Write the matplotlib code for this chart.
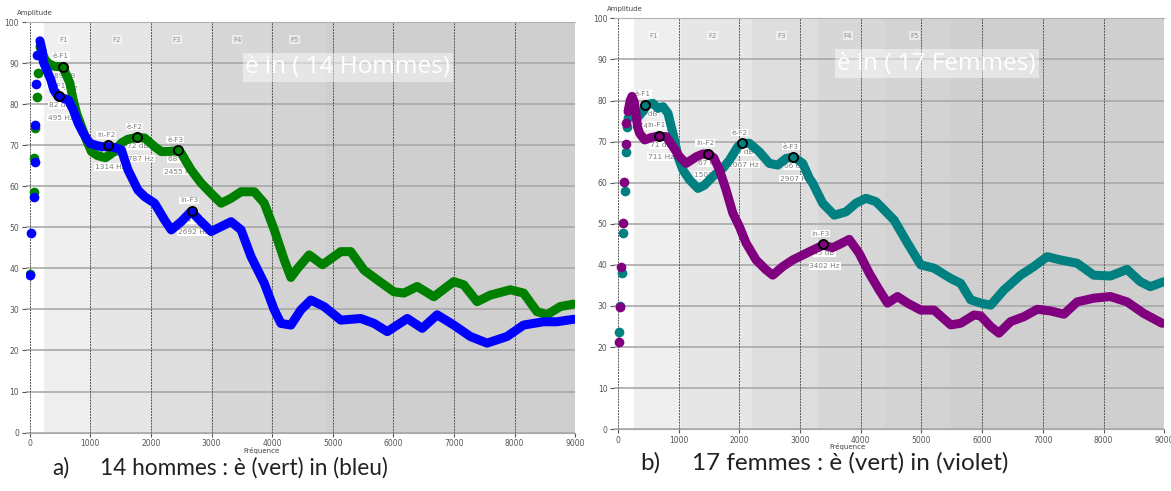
import matplotlib
matplotlib.use('Agg')
import matplotlib.pyplot as plt

# ---- hommes (a) ----
h_e_start_hz = [5, 71, 71, 88, 115, 132]
h_e_start_db = [38.6, 58.7, 66.9, 74.3, 81.9, 87.7]
h_e_hz = [170, 200, 250, 307, 400, 471, 554, 581, 663, 718, 773, 855, 937, 1020, 1120, 1250,
          1400, 1513, 1620, 1760, 1897, 2061, 2171, 2281, 2434, 2500, 2664, 2829, 2993, 3158,
          3322, 3487, 3706, 3870, 4035, 4199, 4309, 4419, 4611, 4830, 5132, 5296, 5515, 5735,
          6009, 6173, 6393, 6667, 6995, 7160, 7380, 7599, 7928, 8147, 8366, 8531, 8750, 8969]
h_e_db = [94, 93, 91, 90, 89.3, 89.2, 89.2, 88, 85.2, 81.1, 77.9, 74.6, 71.3, 68.5, 67.5, 67,
          68.5, 70.6, 71.5, 71.9, 71.8, 69.7, 68.5, 68.5, 68.7, 68.1, 64, 60.8, 58.3, 55.9,
          57.1, 58.7, 58.7, 55.9, 49.4, 42.1, 37.8, 40, 43.3, 40.9, 44.1, 44.1, 39.6, 37.2,
          34.3, 34, 35.6, 33.1, 36.8, 36, 31.9, 33.5, 34.8, 34, 29.5, 28.7, 30.7, 31.3]

h_in_start_hz = [5, 22, 71, 88, 88, 104, 126]
h_in_start_db = [38.4, 48.7, 57.5, 66, 75, 85, 92]
h_in_hz = [170, 209, 225, 280, 350, 400, 471, 550, 636, 718, 800, 883, 993, 1100, 1184, 1294,
           1400, 1513, 1623, 1787, 1897, 2061, 2226, 2336, 2500, 2664, 2829, 2993, 3158, 3322,
           3487, 3651, 3870, 4035, 4145, 4309, 4474, 4638, 4857, 5132, 5461, 5680, 5899, 6229,
           6475, 6721, 6995, 7270, 7544, 7873, 8147, 8476, 8695, 8969]
h_in_db = [95.5, 93, 90.4, 88.4, 86, 83.5, 81.9, 81.5, 81.1, 78.7, 75.4, 73, 70.5, 70, 69.7, 69.7,
           69.5, 68.9, 64, 59.1, 57.5, 55.9, 51.8, 49.4, 51.4, 53.9, 51.4, 49, 50.2, 51.4,
           49.4, 42.9, 36.4, 29.9, 26.6, 26.2, 29.9, 32.3, 30.7, 27.4, 27.8, 26.6, 24.6, 27.8,
           25.4, 28.7, 26.2, 23.4, 21.8, 23.4, 26.2, 27, 27, 27.6]

# formants: nom, dB, Hz affiches, position du marqueur
h_formants = [
    ("è-F1", "89 dB", "554 Hz", 554, 89.2),
    ("in-F1", "82 dB", "495 Hz", 480, 82),
    ("in-F2", "70 dB", "1314 Hz", 1300, 70),
    ("è-F2", "72 dB", "1787 Hz", 1770, 72),
    ("è-F3", "68 dB", "2455 Hz", 2440, 68.8),
    ("in-F3", "54 dB", "2692 Hz", 2670, 54),
]
h_bands = [233, 1000, 2000, 2984, 3980, 4885]

# ---- femmes (b) ----
f_e_start_hz = [10, 26, 66, 82, 109, 125, 148]
f_e_start_db = [23.7, 30.1, 38.1, 47.7, 58, 67.5, 73.6]
f_e_hz = [164, 200, 330, 420, 474, 576, 658, 740, 822, 877, 931, 987, 1069, 1178, 1316, 1424,
          1562, 1727, 1836, 1974, 2050, 2164, 2329, 2493, 2632, 2768, 2900, 3043, 3151, 3207,
          3372, 3563, 3755, 3919, 4084, 4248, 4331, 4549, 4770, 4988, 5207, 5482, 5646, 5811,
          5975, 6140, 6359, 6633, 6852, 7072, 7291, 7566, 7839, 8113, 8388, 8607, 8771, 8990]
f_e_db = [75.7, 76, 76, 77.5, 79, 79.3, 78.1, 78.5, 76.9, 73.6, 70.4, 66.3, 63.1, 60.7, 58.6, 59.4,
          61.5, 63.5, 65.5, 68.8, 69.6, 69.6, 67.5, 64.7, 64.3, 65.9, 66.2, 64.7, 61.1, 59.9,
          55, 52.1, 52.9, 55, 56.2, 55.4, 54.2, 50.9, 45.3, 40, 39.2, 36.7, 35.5, 31.5,
          30.7, 30.2, 33.9, 37.5, 39.6, 42, 41.2, 40.4, 37.5, 37.3, 38.9, 35.9, 34.7, 35.9]

f_in_start_hz = [10, 26, 54, 82, 99, 125, 125]
f_in_start_db = [21.3, 29.8, 39.6, 50.1, 60.2, 69.4, 74.5]
f_in_hz = [164, 200, 230, 270, 301, 320, 356, 438, 550, 660, 794, 904, 1014, 1123, 1288, 1398,
           1490, 1580, 1672, 1781, 1891, 2000, 2110, 2275, 2439, 2549, 2714, 2878, 3043, 3207,
           3380, 3536, 3650, 3810, 3974, 4138, 4303, 4441, 4605, 4770, 4988, 5207, 5482, 5646,
           5865, 5975, 6140, 6277, 6469, 6688, 6908, 7127, 7346, 7566, 7839, 8113, 8388, 8661, 8964]
f_in_db = [77.3, 80, 81, 79.5, 76.2, 73.6, 72, 70.4, 71, 71.3, 71.2, 68.8, 66.3, 64.7, 66.3, 67,
           67, 66, 63.1, 58.2, 52.6, 49.3, 45.3, 41.2, 38.8, 37.5, 39.6, 41.2, 42.4, 43.6,
           44.8, 44.2, 45, 46.2, 42.8, 38, 33.9, 30.7, 32.3, 30.7, 29, 29, 25.4, 25.8,
           27.8, 27.6, 25, 23.4, 26.2, 27.4, 29.2, 28.8, 28, 31, 31.9, 32.3, 31, 28.2, 25.8]

f_formants = [
    ("è-F1", "79 dB", "474 Hz", 450, 79),
    ("in-F1", "71 dB", "711 Hz", 680, 71.4),
    ("in-F2", "67 dB", "1507 Hz", 1480, 67),
    ("è-F2", "69 dB", "2067 Hz", 2040, 69.6),
    ("è-F3", "66 dB", "2907 Hz", 2885, 66.2),
    ("in-F3", "45 dB", "3402 Hz", 3375, 45),
]
f_bands = [268, 1036, 2200, 3295, 4400, 5489]

band_colors = ["#efefef", "#e6e6e6", "#dedede", "#d7d7d7", "#d3d3d3", "#cfcfcf"]
lw = 6.5


def panel(ax, bands, e_start, e_curve, in_start, in_curve, c_e, c_in, formants, title):
    # fonds des zones de formants
    edges = bands + [9000]
    for i in range(len(bands)):
        ax.axvspan(edges[i], edges[i + 1], color=band_colors[i], lw=0, zorder=0)
        if i < 5:
            ax.text((edges[i] + edges[i + 1]) / 2 - 60, 95.8, "F%d" % (i + 1), fontsize=5,
                    color="#909090", ha="center", va="center", zorder=1,
                    bbox=dict(facecolor="white", alpha=0.5, lw=0, pad=0.8))

    for y in range(0, 101, 10):
        ax.axhline(y, color="#a9a9a9", lw=1.2, zorder=1)
    for x in range(0, 9001, 1000):
        ax.axvline(x, color="#555555", lw=0.7, ls=(0, (2, 1)), zorder=1)

    ax.text(5250, 89, title, fontsize=17.5, color="white", ha="center", va="center",
            family="Open Sans", zorder=2,
            bbox=dict(facecolor="white", alpha=0.45, lw=0, pad=2.0))

    # etiquettes des formants (sous les courbes)
    for name, db, hz, fx, fy in formants:
        kw = dict(fontsize=5.3, color="#7f7f7f", ha="center", va="center", zorder=3,
                  bbox=dict(facecolor="white", lw=0, pad=0.6))
        ax.text(fx - 40, fy + 2.6, name, **kw)
        ax.text(fx + 20, fy - 2.2, db, **kw)
        ax.text(fx + 30, fy - 5.2, hz, **kw)

    ax.plot(e_start[0], e_start[1], "o", color=c_e, ms=7, mew=0, zorder=4)
    ax.plot(e_curve[0], e_curve[1], color=c_e, lw=lw, solid_capstyle="round",
            solid_joinstyle="round", zorder=4)
    ax.plot(in_start[0], in_start[1], "o", color=c_in, ms=7, mew=0, zorder=5)
    ax.plot(in_curve[0], in_curve[1], color=c_in, lw=lw, solid_capstyle="round",
            solid_joinstyle="round", zorder=5)

    for name, db, hz, fx, fy in formants:
        ax.plot(fx, fy, "o", ms=6.5, mfc="none", mec="black", mew=1.4, zorder=6)

    ax.set_xlim(-60, 9000)
    ax.set_ylim(0, 100)
    ax.set_xticks(range(0, 9001, 1000))
    ax.set_yticks(range(0, 101, 10))
    ax.tick_params(labelsize=5.5, colors="#555555", length=3, width=0.8, pad=2)
    for s in ["left", "right"]:
        ax.spines[s].set_visible(False)
    ax.spines["top"].set_color("#b0b0b0")
    ax.spines["bottom"].set_color("#a9a9a9")


fig = plt.figure(figsize=(11.71, 4.91), dpi=100)
ax1 = fig.add_axes([0.0222, 0.1191, 0.4691, 0.8354])
ax2 = fig.add_axes([0.5247, 0.1257, 0.4695, 0.837])

panel(ax1, h_bands, (h_e_start_hz, h_e_start_db), (h_e_hz, h_e_db),
      (h_in_start_hz, h_in_start_db), (h_in_hz, h_in_db), "#008000", "#0000ff",
      h_formants, "è in ( 14 Hommes)")
panel(ax2, f_bands, (f_e_start_hz, f_e_start_db), (f_e_hz, f_e_db),
      (f_in_start_hz, f_in_start_db), (f_in_hz, f_in_db), "#008080", "#800080",
      f_formants, "è in ( 17 Femmes)")

small = dict(fontsize=5, color="#444444", ha="center", va="center")
fig.text(35 / 1171, 1 - 12.5 / 491, "Amplitude", **small)
fig.text(625 / 1171, 1 - 8.5 / 491, "Amplitude", **small)
fig.text(262 / 1171, 1 - 450 / 491, "Fréquence", **small)
fig.text(847 / 1171, 1 - 447 / 491, "Fréquence", **small)

fig.text(52 / 1171, 1 - 468 / 491, "a)", fontsize=16.3, family="Lato", color="#222222", va="center")
fig.text(100 / 1171, 1 - 468 / 491, "14 hommes : è (vert) in (bleu)", fontsize=16.3,
         family="Lato", color="#222222", va="center")
fig.text(640 / 1171, 1 - 463 / 491, "b)", fontsize=17.5, family="Lato", color="#222222", va="center")
fig.text(692 / 1171, 1 - 463 / 491, "17 femmes : è (vert) in (violet)", fontsize=17.5,
         family="Lato", color="#222222", va="center")

fig.savefig("out.png", dpi=100)
